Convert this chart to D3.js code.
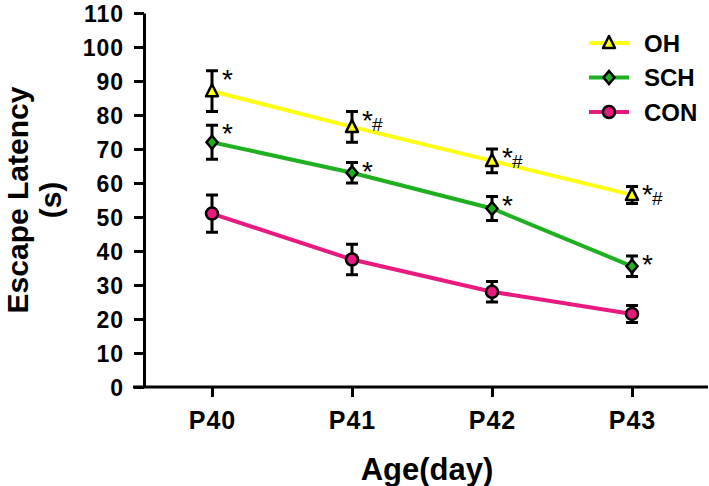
<!DOCTYPE html>
<html>
<head>
<meta charset="utf-8">
<script src="https://cdn.jsdelivr.net/npm/d3@7"></script>
<style>
  body { margin: 0; background: #fff; }
  text { font-family: Arial, "Liberation Sans", sans-serif; font-weight: bold; }
</style>
</head>
<body>
<div id="chart"></div>
<script>
// data
var days = ["P40", "P41", "P42", "P43"];
var yTicks = [0, 10, 20, 30, 40, 50, 60, 70, 80, 90, 100, 110];

var ohMean  = [87, 76.5, 66.5, 56.5];
var ohErr   = [6, 4.5, 3.5, 2.5];
var schMean = [72, 63, 52.5, 35.5];
var schErr  = [5, 3, 3.5, 3];
var conMean = [51, 37.5, 28, 21.5];
var conErr  = [5.5, 4.5, 3, 2.5];

// significance marks per point
var ohMarks  = ["*", "*#", "*#", "*#"];
var schMarks = ["*", "*", "*", "*"];

var series = [
  {name: "OH",  mean: ohMean,  err: ohErr,  color: "#ffff14", shape: "triangle", marks: ohMarks},
  {name: "SCH", mean: schMean, err: schErr, color: "#1fb01f", shape: "diamond",  marks: schMarks},
  {name: "CON", mean: conMean, err: conErr, color: "#e8197f", shape: "circle",   marks: null}
];

var width = 709, height = 486;
var margin = {top: 13, right: 1, bottom: 99, left: 144};
var innerW = width - margin.left - margin.right,
    innerH = height - margin.top - margin.bottom;

var svg = d3.select("#chart").append("svg")
    .attr("width", width)
    .attr("height", height);

var g = svg.append("g")
    .attr("transform", "translate(" + margin.left + "," + margin.top + ")");

var x = d3.scalePoint().domain(days).range([68, 488]);
var y = d3.scaleLinear().domain([0, 110]).range([innerH, 0]);

// axes
var yAxis = g.append("g")
    .call(d3.axisLeft(y).tickValues(yTicks).tickSize(10).tickPadding(10).tickSizeOuter(0));
var xAxis = g.append("g")
    .attr("transform", "translate(0," + innerH + ")")
    .call(d3.axisBottom(x).tickSize(10).tickPadding(14).tickSizeOuter(0));
xAxis.select(".domain").attr("d", "M-11,0H" + innerW);

[xAxis, yAxis].forEach(function(a) {
  a.selectAll(".domain, line").attr("stroke", "#000").attr("stroke-width", 3);
  a.selectAll("text").attr("fill", "#000").style("font-weight", "bold")
    .style("font-family", "Arial, 'Liberation Sans', sans-serif");
});
yAxis.selectAll("text").attr("dy", "0.36em").style("font-size", "23px").style("letter-spacing", "1px");
xAxis.selectAll("text").style("font-size", "25px").style("letter-spacing", "1px");

// axis titles
svg.append("text")
    .attr("transform", "translate(28," + (margin.top + innerH / 2) + ") rotate(-90)")
    .attr("text-anchor", "middle")
    .style("font-size", "30px")
    .text("Escape Latency");
svg.append("text")
    .attr("transform", "translate(61," + (margin.top + innerH / 2) + ") rotate(-90)")
    .attr("text-anchor", "middle")
    .style("font-size", "30px")
    .text("(s)");
svg.append("text")
    .attr("x", 427)
    .attr("y", 480)
    .attr("text-anchor", "middle")
    .style("font-size", "31px")
    .text("Age(day)");

var line = d3.line()
    .x(function(d, i) { return x(days[i]); })
    .y(function(d) { return y(d); });

function marker(sel, shape, color) {
  if (shape === "circle") {
    sel.append("circle").attr("r", 6).attr("fill", color).attr("stroke", "#000").attr("stroke-width", 2.5);
  } else if (shape === "triangle") {
    sel.append("path").attr("d", "M0,-7L6,5H-6Z").attr("fill", color).attr("stroke", "#000").attr("stroke-width", 2.5)
        .attr("stroke-linejoin", "round");
  } else {
    sel.append("path").attr("d", "M0,-6.5L5.5,0L0,6.5L-5.5,0Z").attr("fill", color).attr("stroke", "#000").attr("stroke-width", 2.5);
  }
}

series.forEach(function(s) {
  g.append("path")
      .datum(s.mean)
      .attr("fill", "none")
      .attr("stroke", s.color)
      .attr("stroke-width", 4)
      .attr("d", line);

  var pts = g.selectAll(".pt-" + s.name)
      .data(s.mean.map(function(m, i) { return {day: days[i], m: m, e: s.err[i], mark: s.marks ? s.marks[i] : null}; }))
      .enter().append("g")
      .attr("transform", function(d) { return "translate(" + x(d.day) + "," + y(d.m) + ")"; });

  // error bars
  pts.append("path")
      .attr("d", function(d) {
        var t = y(d.m + d.e) - y(d.m), b = y(d.m - d.e) - y(d.m);
        return "M0," + t + "V" + b + "M-6," + t + "H6M-6," + b + "H6";
      })
      .attr("stroke", "#000")
      .attr("stroke-width", 3)
      .attr("fill", "none");

  pts.each(function() { marker(d3.select(this), s.shape, s.color); });

  // significance marks
  pts.filter(function(d) { return d.mark; }).each(function(d) {
    var t = y(d.m + d.e) - y(d.m);
    var el = d3.select(this);
    el.append("text")
        .attr("x", 10).attr("y", t + 18)
        .style("font-size", "28px").style("font-weight", "normal")
        .text("*");
    if (d.mark.indexOf("#") >= 0) {
      el.append("text")
          .attr("x", 20).attr("y", t + 19)
          .style("font-size", "19px").style("font-weight", "normal")
          .text("#");
    }
  });
});

// legend
var legend = svg.append("g").attr("transform", "translate(589,43)");
series.forEach(function(s, i) {
  var row = legend.append("g").attr("transform", "translate(0," + (i * 34.5) + ")");
  row.append("line").attr("x1", 0).attr("x2", 40).attr("stroke", s.color).attr("stroke-width", 4);
  marker(row.append("g").attr("transform", "translate(20,0)"), s.shape, s.color);
  row.append("text")
      .attr("x", 55).attr("y", 0).attr("dy", "0.36em")
      .style("font-size", "24px")
      .text(s.name);
});
</script>
</body>
</html>
